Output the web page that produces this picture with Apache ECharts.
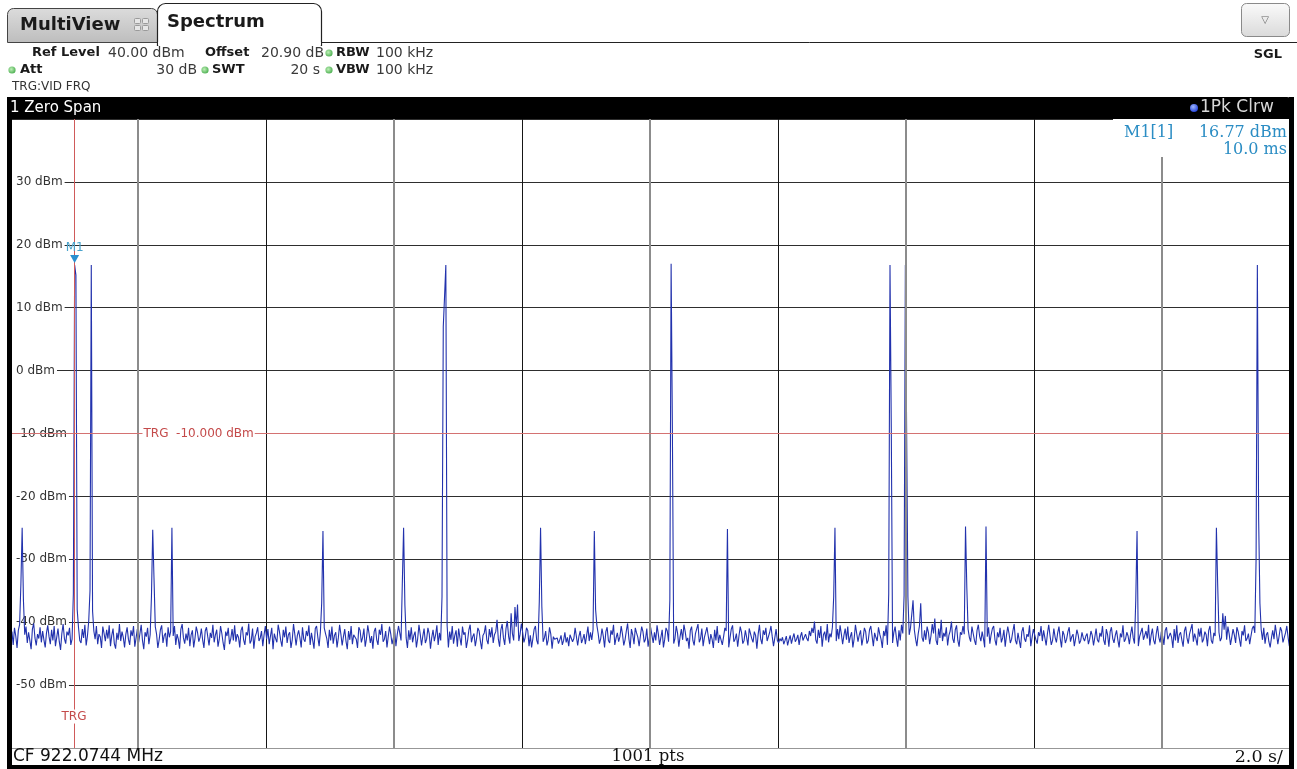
<!DOCTYPE html>
<html>
<head>
<meta charset="utf-8">
<title>Spectrum – 1 Zero Span</title>
<script src="https://cdn.jsdelivr.net/npm/echarts@6.0.0/dist/echarts.min.js"></script>
<style>
  html, body { margin: 0; padding: 0; background: #fff; }
  #chart { width: 1297px; height: 769px; }
</style>
</head>
<body>
<div id="chart"></div>
<script>
// Sweep: zero span, 1001 points over 20 s, trigger offset -1 s
const sweepStartS = -0.99;
const sampleStepS = 0.02;
const timeMinS = -1;
const timeMaxS = 19;
const timeDivS = 2;
const levelMinDbm = -60;
const levelMaxDbm = 40;
const levelDivDb = 10;

// Noise floor of trace 1 (dBm), one value per sweep point
const noiseFloorDbm = [
  -42.8,-41.5,-43.6,-40.9,-42.2,-44.1,-41.3,-40.4,-42.7,-41.8,-43.9,-42.0,-40.7,-43.3,-41.6,-42.9,-44.3,-41.1,-40.2,-42.5,-43.7,-41.9,-42.6,-40.8,-43.2,
  -41.4,-42.8,-44.0,-41.7,-40.5,-42.3,-43.5,-41.2,-42.9,-40.6,-43.8,-42.4,-41.0,-43.1,-44.4,-41.8,-40.3,-42.6,-43.4,-41.5,-42.1,-40.9,-43.6,-42.7,-41.3,
  -42.0,-44.2,-41.6,-40.8,-42.9,-43.3,-41.1,-42.5,-40.4,-43.7,-42.2,-39.8,-37.5,-42.8,-44.0,-41.4,-42.7,-40.6,-43.5,-41.9,-42.3,-44.1,-40.7,-41.8,-43.0,
  -41.2,-42.6,-40.5,-43.8,-42.1,-41.0,-43.4,-44.2,-41.7,-42.8,-40.3,-43.0,-41.5,-42.4,-44.0,-41.9,-40.8,-42.7,-43.6,-41.3,-42.2,-40.6,-43.9,-42.5,-41.1,
  -43.2,-41.8,-40.4,-42.9,-44.3,-41.6,-42.3,-40.9,-43.5,-42.0,-41.4,-43.7,-42.6,-40.7,-41.9,-44.1,-42.8,-41.2,-40.5,-43.3,-42.1,-41.7,-43.9,-40.8,-42.4,
  -41.5,-43.0,-42.2,-40.6,-43.6,-41.9,-42.7,-44.2,-41.1,-40.3,-42.5,-43.4,-41.8,-42.9,-40.9,-43.8,-42.0,-41.3,-44.0,-42.6,-40.7,-41.6,-43.1,-42.4,-41.0,
  -42.8,-44.1,-41.4,-40.8,-42.3,-43.7,-41.7,-42.5,-40.4,-43.2,-42.0,-41.2,-43.9,-42.7,-40.6,-41.8,-43.3,-44.4,-41.5,-42.2,-40.9,-43.5,-42.6,-41.1,-42.9,
  -40.5,-43.1,-41.9,-42.4,-44.0,-41.3,-40.7,-42.8,-43.6,-41.6,-42.1,-40.2,-43.4,-42.9,-41.0,-44.2,-42.3,-41.7,-40.8,-43.0,-42.5,-41.4,-43.8,-42.0,-40.6,
  -42.7,-41.1,-43.5,-42.2,-40.9,-44.3,-41.8,-42.6,-43.2,-40.4,-41.5,-42.9,-43.9,-41.2,-42.4,-40.7,-43.3,-42.0,-41.6,-44.1,-42.8,-40.3,-41.9,-43.7,-42.1,
  -41.3,-42.5,-44.0,-40.8,-42.7,-43.1,-41.4,-42.2,-40.5,-43.6,-41.7,-42.9,-44.2,-41.0,-40.6,-42.4,-43.8,-41.5,-42.0,-43.3,-40.9,-41.8,-42.6,-44.1,-41.2,
  -42.9,-40.7,-43.4,-42.1,-41.6,-44.0,-42.5,-40.4,-41.9,-43.7,-42.3,-41.1,-43.0,-44.3,-41.4,-42.8,-40.6,-43.5,-42.0,-41.7,-42.7,-44.1,-40.8,-41.3,-43.2,
  -42.4,-41.0,-43.9,-42.6,-40.5,-41.8,-43.3,-42.2,-44.2,-41.5,-40.9,-42.8,-43.6,-41.2,-42.0,-40.3,-43.1,-42.7,-41.4,-44.0,-42.3,-40.7,-41.9,-43.5,-42.5,
  -41.1,-43.8,-42.0,-40.6,-41.7,-42.9,-43.4,-41.6,-40.1,-42.5,-44.1,-41.3,-42.8,-40.8,-43.2,-42.1,-41.5,-44.0,-42.6,-40.4,-41.9,-43.7,-42.2,-41.0,-43.3,
  -42.7,-40.9,-41.8,-44.2,-42.4,-41.2,-43.0,-42.0,-40.5,-43.6,-41.7,-42.9,-41.4,-42.2,-43.1,-40.8,-42.6,-44.0,-41.5,-42.8,-40.6,-43.4,-42.1,-41.3,-43.9,
  -41.0,-42.5,-43.7,-40.7,-42.0,-41.6,-44.1,-42.9,-41.2,-40.4,-43.2,-42.3,-41.8,-43.8,-42.6,-40.9,-41.4,-43.0,-44.3,-42.1,-41.7,-40.5,-42.8,-43.5,-41.1,
  -42.4,-40.8,-43.3,-42.0,-41.5,-39.6,-42.7,-43.9,-41.2,-40.3,-42.5,-43.6,-41.0,-39.8,-42.2,-43.4,-38.6,-41.8,-42.9,-37.6,-40.7,-37.2,-43.0,-41.9,-40.2,
  -41.6,-43.2,-42.4,-40.9,-41.3,-43.8,-42.1,-44.0,-42.6,-41.1,-40.6,-42.9,-43.5,-41.7,-42.0,-40.4,-43.1,-42.5,-41.4,-43.7,-42.8,-40.8,-41.9,-44.2,-42.3,
  -42.7,-43.0,-42.5,-43.4,-42.8,-42.1,-43.6,-42.9,-41.6,-43.2,-42.4,-43.8,-42.0,-41.8,-43.1,-42.6,-40.9,-42.3,-43.7,-42.2,-41.4,-43.3,-42.7,-41.9,-43.5,
  -42.1,-40.7,-43.0,-41.6,-42.8,-41.2,-43.9,-42.4,-40.5,-41.8,-43.4,-42.6,-41.0,-42.2,-44.0,-41.5,-40.8,-42.9,-43.3,-41.3,-42.0,-40.4,-43.6,-42.5,-41.7,
  -43.1,-42.3,-40.6,-41.9,-43.7,-42.8,-41.4,-40.2,-42.6,-44.1,-41.1,-42.0,-43.5,-40.9,-41.7,-42.4,-43.8,-42.2,-40.7,-41.5,-43.2,-42.7,-41.0,-43.9,-42.5,
  -40.8,-42.1,-43.3,-41.6,-42.9,-40.5,-41.9,-43.6,-42.4,-41.2,-44.0,-42.7,-40.9,-41.4,-43.1,-42.2,-42.0,-41.8,-43.4,-42.6,-40.6,-41.7,-43.9,-42.3,-41.1,
  -42.8,-40.4,-41.5,-43.0,-42.5,-44.2,-41.3,-40.7,-42.9,-43.7,-41.8,-42.1,-40.3,-43.2,-42.6,-41.0,-43.8,-42.4,-41.6,-40.8,-42.2,-43.5,-41.9,-42.7,-44.1,
  -41.2,-42.9,-40.6,-43.3,-42.0,-41.7,-43.6,-42.3,-40.9,-41.4,-42.8,-44.0,-42.5,-41.1,-40.5,-43.1,-42.7,-41.8,-43.9,-42.2,-40.7,-41.6,-43.4,-42.9,-41.3,
  -42.4,-43.7,-41.0,-40.8,-42.6,-43.2,-41.5,-42.1,-44.2,-41.9,-40.4,-42.7,-43.5,-41.3,-42.0,-40.9,-43.0,-42.8,-41.6,-40.6,-42.3,-43.8,-42.5,-41.1,-42.9,
  -43.3,-42.6,-43.0,-42.4,-43.5,-42.9,-42.2,-43.7,-42.8,-42.1,-43.4,-42.5,-41.8,-43.1,-42.7,-42.0,-43.6,-42.3,-41.6,-42.9,-43.2,-41.9,-42.6,-43.0,-41.4,
  -42.2,-40.9,-41.7,-39.9,-42.8,-43.4,-41.2,-42.5,-40.6,-43.9,-42.0,-41.5,-42.9,-40.3,-43.2,-41.8,-42.4,-40.8,-41.4,-42.6,-43.0,-41.1,-42.7,-40.5,-41.9,
  -43.5,-42.1,-41.0,-42.8,-40.7,-43.3,-42.3,-41.6,-44.0,-42.6,-40.4,-41.8,-43.1,-42.0,-41.3,-43.7,-42.5,-40.9,-41.5,-43.4,-42.9,-41.2,-40.6,-42.2,-43.8,
  -41.7,-42.4,-43.0,-40.8,-41.9,-42.7,-44.1,-41.4,-42.2,-40.5,-43.6,-42.8,-41.1,-42.0,-43.3,-41.6,-40.7,-42.5,-43.9,-41.3,-42.9,-40.4,-41.8,-43.2,-42.6,
  -41.5,-43.4,-42.0,-40.9,-38.8,-36.5,-41.2,-42.7,-43.8,-41.9,-40.6,-37.0,-42.4,-43.1,-41.3,-42.8,-40.7,-41.6,-43.5,-42.2,-40.3,-41.8,-39.4,-42.9,-43.6,
  -41.0,-42.5,-39.6,-43.0,-41.7,-42.3,-40.8,-43.7,-42.1,-41.4,-39.9,-42.6,-43.3,-41.2,-40.5,-42.9,-43.9,-41.6,-42.0,-40.6,-41.9,-43.4,-42.7,-41.1,-42.4,
  -43.1,-40.7,-41.8,-42.9,-43.6,-41.3,-40.4,-42.2,-43.0,-41.5,-42.6,-44.0,-41.9,-42.3,-40.8,-43.4,-42.0,-41.0,-40.6,-42.8,-43.7,-41.6,-42.4,-40.9,-43.2,
  -42.5,-41.2,-43.9,-42.1,-40.7,-41.8,-43.3,-42.7,-41.4,-40.3,-42.9,-43.5,-41.7,-42.0,-44.1,-41.5,-40.8,-42.6,-43.1,-41.9,-42.3,-40.5,-43.8,-42.4,-41.1,
  -40.9,-42.8,-43.4,-41.6,-42.2,-40.6,-43.0,-41.3,-42.5,-43.7,-41.8,-40.4,-42.1,-43.6,-42.9,-41.0,-42.4,-43.2,-41.7,-40.7,-42.6,-44.0,-41.4,-42.0,-43.3,
  -42.7,-41.5,-40.8,-43.1,-42.3,-41.9,-43.8,-42.6,-41.2,-42.0,-43.4,-42.9,-41.6,-42.5,-43.0,-42.2,-41.8,-43.5,-42.7,-41.4,-42.1,-43.7,-42.4,-41.0,-42.8,
  -43.2,-41.7,-42.3,-40.6,-42.9,-43.6,-41.1,-42.0,-43.9,-41.5,-40.8,-42.6,-43.3,-42.1,-41.3,-42.8,-44.0,-41.8,-42.4,-40.5,-43.1,-42.7,-41.6,-42.2,-43.5,
  -41.9,-40.7,-42.5,-43.4,-41.2,-42.0,-43.8,-42.3,-41.6,-40.9,-42.8,-43.1,-41.4,-42.6,-40.4,-43.7,-42.1,-41.0,-42.9,-43.5,-41.8,-40.6,-42.4,-43.2,-41.5,
  -42.2,-43.6,-41.3,-40.8,-42.7,-43.0,-41.7,-42.4,-44.1,-41.1,-42.9,-40.5,-43.3,-42.0,-41.6,-42.8,-43.9,-41.4,-40.7,-42.5,-43.4,-41.9,-42.1,-40.3,-43.1,
  -41.8,-42.6,-43.7,-41.0,-42.3,-40.9,-43.2,-42.7,-41.5,-42.0,-43.8,-41.3,-40.6,-42.9,-43.4,-41.7,-42.2,-40.4,-39.5,-41.6,-43.0,-42.5,-38.6,-41.2,-39.0,
  -42.8,-40.7,-41.9,-43.6,-42.4,-41.1,-42.0,-43.3,-40.8,-41.5,-42.7,-43.9,-41.4,-42.1,-40.5,-43.0,-42.6,-41.8,-43.5,-42.2,-41.0,-40.6,-41.7,-39.2,-42.9,
  -42.3,-43.7,-41.2,-42.8,-40.9,-43.4,-42.0,-41.6,-43.1,-44.0,-42.5,-41.3,-42.7,-40.4,-41.9,-43.5,-42.2,-40.8,-41.4,-43.2,-42.9,-41.7,-40.6,-42.4,-43.8,
  -41.5
];

// Burst samples riding on the noise floor: [sweep point, dBm]
const burstSamples = [
  [8, -34.0], [9, -25.0], [10, -36.5],
  [49, -35.5], [50, 16.77], [51, 15.2], [52, -38.0],
  [62, -35.0], [63, 16.8], [64, -38.2],
  [110, -36.0], [111, -25.3], [112, -33.0],
  [126, -25.0],
  [243, -37.0], [244, -25.5],
  [306, -33.8], [307, -25.0], [308, -37.2],
  [337, -36.0], [338, 7.0], [339, 11.8], [340, 16.8], [341, -40.5],
  [413, -36.8], [414, -25.0], [415, -37.5],
  [456, -25.5], [457, -38.0],
  [515, -36.5], [516, 17.0], [517, -9.8],
  [560, -25.2],
  [643, -36.0], [644, -25.0],
  [686, -35.5], [687, 16.8], [688, -9.0],
  [698, -35.8], [699, 16.8], [700, 16.5], [701, -36.0],
  [746, -24.8], [747, -34.4],
  [762, -24.8],
  [879, -36.5], [880, -25.5],
  [942, -25.0], [943, -34.0],
  [973, -30.0], [974, 16.8], [975, -23.5], [976, -37.0]
];

// Trigger (video, level) and marker 1
const trigger = { timeS: 0, levelDbm: -10, levelText: 'TRG  -10.000 dBm' };
const marker1 = { name: 'M1', sample: 50, levelText: '16.77 dBm', timeText: '10.0 ms' };
// Division lines drawn in grey (every other time division)
const greyDivisionsS = [1, 5, 9, 13, 17];

const traceDbm = noiseFloorDbm.slice();
burstSamples.forEach(([i, v]) => { traceDbm[i] = v; });
const traceData = traceDbm.map((v, i) => [sweepStartS + i * sampleStepS, v]);

const SANS = '"DejaVu Sans", Verdana, sans-serif';
const SERIF = '"DejaVu Serif", serif';
const markerBlue = '#2b8dc4';

function txt(x, y, text, font, fill, align) {
  return { type: 'text', x: x, y: y, z: 120, silent: true,
    style: { text: text, font: font, fill: fill || '#1a1a1a', align: align || 'left', verticalAlign: 'middle' } };
}
function dot(cx, cy, color) {
  return { type: 'circle', z: 120, silent: true, shape: { cx: cx, cy: cy, r: 3.6 },
    style: { fill: { type: 'radial', x: 0.4, y: 0.4, r: 0.7, colorStops: [ { offset: 0, color: '#bff0b8' }, { offset: 1, color: color } ] } } };
}
function box(x, y, w, h, fill, z) {
  return { type: 'rect', z: z || 110, silent: true, shape: { x: x, y: y, width: w, height: h }, style: { fill: fill } };
}
function hline(x1, x2, y, color, z) {
  return { type: 'line', z: z || 112, silent: true, shape: { x1: x1, y1: y, x2: x2, y2: y }, style: { stroke: color, lineWidth: 1 } };
}

const graphics = [
  // MultiView tab
  { type: 'rect', z: 110, silent: true, shape: { x: 7.5, y: 8.5, width: 150, height: 34, r: [6, 6, 0, 0] },
    style: { fill: { type: 'linear', x: 0, y: 0, x2: 0, y2: 1, colorStops: [ { offset: 0, color: '#dcdcdc' }, { offset: 1, color: '#bdbdbd' } ] }, stroke: '#444', lineWidth: 1 } },
  txt(20, 25, 'MultiView', 'bold 18px ' + SANS, '#1a1a1a'),
  { type: 'rect', z: 120, silent: true, shape: { x: 134.5, y: 18.5, width: 6, height: 5, r: 1 }, style: { fill: '#e6e6e6', stroke: '#9a9a9a' } },
  { type: 'rect', z: 120, silent: true, shape: { x: 142.5, y: 18.5, width: 6, height: 5, r: 1 }, style: { fill: '#e6e6e6', stroke: '#9a9a9a' } },
  { type: 'rect', z: 120, silent: true, shape: { x: 134.5, y: 25.5, width: 6, height: 5, r: 1 }, style: { fill: '#e6e6e6', stroke: '#9a9a9a' } },
  { type: 'rect', z: 120, silent: true, shape: { x: 142.5, y: 25.5, width: 6, height: 5, r: 1 }, style: { fill: '#e6e6e6', stroke: '#9a9a9a' } },
  // Spectrum tab (active) and the baseline running to the right
  { type: 'rect', z: 111, silent: true, shape: { x: 157.5, y: 3.5, width: 164, height: 42, r: [8, 8, 0, 0] },
    style: { fill: '#fff', stroke: '#222', lineWidth: 1.2 } },
  box(158.2, 42, 162.6, 6, '#fff', 112),
  hline(321.5, 1297, 42.5, '#222'),
  txt(167, 22, 'Spectrum', 'bold 18px ' + SANS, '#1a1a1a'),
  // Drop-down button
  { type: 'rect', z: 110, silent: true, shape: { x: 1241.5, y: 3.5, width: 48, height: 33, r: 5 },
    style: { fill: { type: 'linear', x: 0, y: 0, x2: 0, y2: 1, colorStops: [ { offset: 0, color: '#fafafa' }, { offset: 1, color: '#dadada' } ] }, stroke: '#8a8a8a', lineWidth: 1 } },
  txt(1265, 20, '\u25BD', '10px ' + SANS, '#666', 'center'),
  // Settings block
  txt(32, 53, 'Ref Level', 'bold 13px ' + SANS),
  txt(108, 53, '40.00 dBm', '14px ' + SANS, '#3a3a3a'),
  txt(205, 53, 'Offset', 'bold 13px ' + SANS),
  txt(324, 53, '20.90 dB', '14px ' + SANS, '#3a3a3a', 'right'),
  dot(329, 53, '#3fa845'),
  txt(336, 53, 'RBW', 'bold 13px ' + SANS),
  txt(376, 53, '100 kHz', '14px ' + SANS, '#3a3a3a'),
  dot(12, 70, '#3fa845'),
  txt(20, 70, 'Att', 'bold 13px ' + SANS),
  txt(197, 70, '30 dB', '14px ' + SANS, '#3a3a3a', 'right'),
  dot(205, 70, '#3fa845'),
  txt(212, 70, 'SWT', 'bold 13px ' + SANS),
  txt(320, 70, '20 s', '14px ' + SANS, '#3a3a3a', 'right'),
  dot(329, 70, '#3fa845'),
  txt(336, 70, 'VBW', 'bold 13px ' + SANS),
  txt(376, 70, '100 kHz', '14px ' + SANS, '#3a3a3a'),
  txt(12, 87, 'TRG:VID FRQ', '12px ' + SANS, '#333'),
  txt(1282, 55, 'SGL', 'bold 13px ' + SANS, '#1a1a1a', 'right'),
  // Window title bar
  { type: 'rect', z: 110, silent: true, shape: { x: 7, y: 97, width: 1287, height: 22, r: [2, 7, 0, 0] }, style: { fill: '#000' } },
  txt(10, 108, '1 Zero Span', '15px ' + SANS, '#fff'),
  { type: 'circle', z: 120, silent: true, shape: { cx: 1194, cy: 108, r: 4 },
    style: { fill: { type: 'radial', x: 0.4, y: 0.35, r: 0.7, colorStops: [ { offset: 0, color: '#9fb6ff' }, { offset: 1, color: '#1f3fd8' } ] } } },
  txt(1200, 108, '1Pk Clrw', '17px ' + SANS, '#d8d8d8'),
  // Marker readout
  box(1113, 119, 176, 38, '#fff', 105),
  txt(1124, 133, 'M1[1]', '16px ' + SERIF, markerBlue),
  txt(1287, 133, marker1.levelText, '16px ' + SERIF, markerBlue, 'right'),
  txt(1287, 150, marker1.timeText, '16px ' + SERIF, markerBlue, 'right'),
  // Frame of the diagram
  box(7, 97, 5, 672, '#000'),
  box(1289, 97, 5, 672, '#000'),
  // Status line
  box(12, 748.5, 1277, 17, '#fff', 108),
  box(7, 765, 1287, 4, '#000'),
  txt(13, 757, 'CF 922.0744 MHz', '17px ' + SANS, '#111'),
  txt(648, 757, '1001 pts', '16.5px ' + SERIF, '#111', 'center'),
  txt(1283, 757, '2.0 s/', '17.5px ' + SERIF, '#111', 'right')
];

const chart = echarts.init(document.getElementById('chart'), null, { renderer: 'canvas' });
chart.setOption({
  animation: false,
  backgroundColor: '#fff',
  grid: { left: 10, top: 119, width: 1280, height: 629, containLabel: false },
  xAxis: {
    type: 'value', min: timeMinS, max: timeMaxS, interval: timeDivS,
    axisLine: { show: false }, axisTick: { show: false }, axisLabel: { show: false },
    splitLine: { show: true, lineStyle: { color: '#161616', width: 1 } }
  },
  yAxis: {
    type: 'value', min: levelMinDbm, max: levelMaxDbm, interval: levelDivDb,
    axisLine: { show: false }, axisTick: { show: false },
    axisLabel: {
      inside: true, margin: 0, showMinLabel: false, showMaxLabel: false,
      formatter: v => v + ' dBm', color: '#333', fontSize: 12, fontFamily: 'DejaVu Sans',
      backgroundColor: '#fff', padding: [1, 2, 1, 6]
    },
    splitLine: { show: true, lineStyle: { color: '#2e2e2e', width: 1 } }
  },
  graphic: graphics,
  series: [
    {
      // grey division lines and trigger lines, beneath the trace
      type: 'line', z: 1, data: [], silent: true,
      markLine: {
        silent: true, symbol: ['none', 'none'], label: { show: false }, animation: false,
        data: greyDivisionsS.map(t => ({ xAxis: t, lineStyle: { color: '#8c8c8c', width: 2, type: 'solid' } }))
          .concat([
            { yAxis: trigger.levelDbm, lineStyle: { color: '#d47272', width: 1, type: 'solid' } },
            { xAxis: trigger.timeS, lineStyle: { color: '#cf5a5a', width: 1, type: 'solid' } }
          ])
      }
    },
    {
      type: 'line', z: 2, name: 'Trace 1', data: traceData, showSymbol: false, silent: true,
      lineStyle: { color: '#2232ad', width: 1.1 },
      markPoint: {
        silent: true, animation: false,
        data: [
          { coord: traceData[marker1.sample], symbol: 'triangle', symbolRotate: 180, symbolSize: [9, 8], symbolOffset: [0, -6],
            itemStyle: { color: '#2a8fd0' },
            label: { show: true, formatter: marker1.name, position: 'top', distance: 1, color: '#4aa3cc', fontSize: 12, fontFamily: 'DejaVu Sans' } },
          { coord: [trigger.timeS, -55], symbol: 'rect', symbolSize: 1, itemStyle: { color: 'rgba(0,0,0,0)' },
            label: { show: true, formatter: 'TRG', position: 'inside', color: '#c44a4a', fontSize: 12, fontFamily: 'DejaVu Sans', backgroundColor: '#fff', padding: [1, 1] } },
          { coord: [1, trigger.levelDbm], symbol: 'rect', symbolSize: 1, itemStyle: { color: 'rgba(0,0,0,0)' },
            label: { show: true, formatter: trigger.levelText, position: 'right', distance: 4, color: '#c44a4a', fontSize: 12, fontFamily: 'DejaVu Sans', backgroundColor: '#fff', padding: [1, 1] } }
        ]
      }
    }
  ]
});
</script>
</body>
</html>
